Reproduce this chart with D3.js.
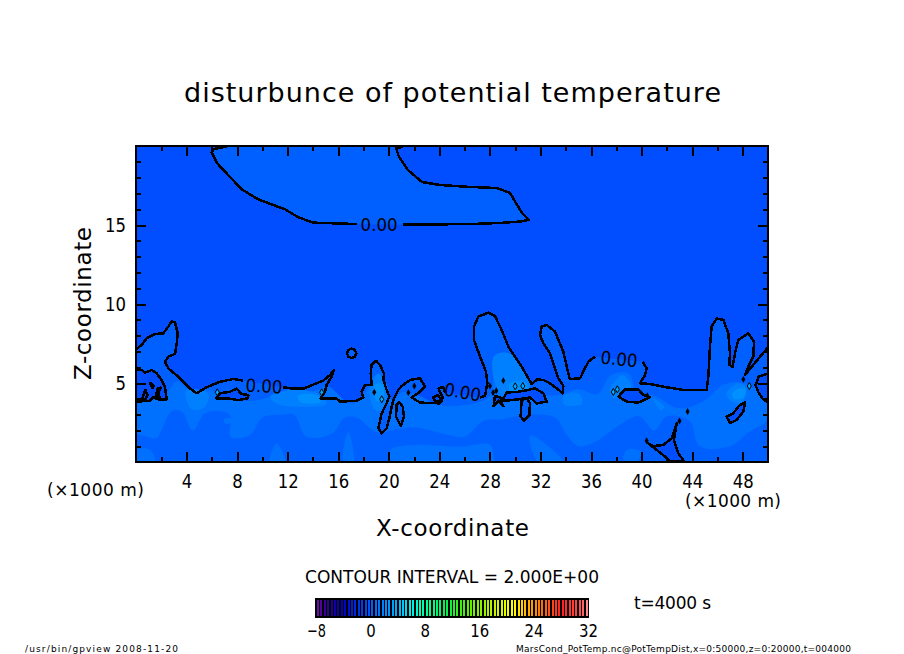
<!DOCTYPE html>
<meta charset="utf-8" />
<style>
  html, body { margin: 0; background: #fff; }
  text { font-family: "DejaVu Sans", sans-serif; fill: #000; }
</style>
<body>
<script src="https://cdn.jsdelivr.net/npm/d3@7"></script>
<script>
// all curves are [x (1000 m), z (1000 m)]
var xTicks = [4, 8, 12, 16, 20, 24, 28, 32, 36, 40, 44, 48],
  xMinorTicks = [2, 6, 10, 14, 18, 22, 26, 30, 34, 38, 42, 46],
  zTicks = [5, 10, 15],
  zMinorTicks = [1, 2, 3, 4, 6, 7, 8, 9, 11, 12, 13, 14, 16, 17, 18, 19],
  barTicks = [-8, 0, 8, 16, 24, 32];

var barStops = [-8, -7, -6, -4, 0, 4, 6, 8, 11, 14, 18, 21, 24, 28, 31, 32],
  barColors = ["#7a10b0", "#400098", "#200090", "#0000c0", "#0058ff", "#00b0ff", "#00f0e8", "#00ffa0",
    "#00f050", "#50f000", "#c0f000", "#ffff00", "#ff9000", "#ff2020", "#ff5050", "#ffa0a0"];

var bandColors = ["#004eff", "#0060ff", "#0070ff", "#0080ff", "#0090ff"];

var topContour = [[7.17, 19.96], [6.12, 19.81], [5.99, 19.58], [6.43, 18.9], [7.17, 18.27], [8.36, 17.26], [9.68, 16.62],
  [11.79, 15.99], [12.84, 15.49], [14.03, 15.15], [17.46, 15.06]];
var topContour2 = [[21.15, 15.02], [26.42, 15.06], [28.8, 15.13], [30.38, 15.22], [31.09, 15.32], [30.54, 15.76],
  [30.06, 16.39], [29.59, 17.03], [28.56, 17.34], [26.42, 17.41], [24.05, 17.53], [22.63, 17.72], [21.52, 18.48],
  [20.81, 19.3], [20.57, 19.87], [21.12, 19.94]];

var mainContour1 = [[0, 7.13], [0.45, 7.41], [0.84, 7.83], [1.5, 8.1], [2.16, 8.14], [2.56, 8.57], [2.82, 8.92], [3.09, 8.82],
  [3.3, 8.14], [3.22, 7.51], [3.09, 6.84], [2.56, 6.67], [2.29, 6.35], [2.56, 5.93], [3.48, 5.3], [4.27, 4.66], [4.8, 4.35],
  [5.59, 4.73], [6.65, 5.08], [7.7, 5.25], [8.49, 5.15]];
var mainContour2 = [[11.66, 4.73], [12.45, 4.64], [13.24, 4.64], [14.16, 4.94], [14.82, 5.15], [15.35, 5.51], [15.66, 5.82],
  [15.48, 5.4], [15.08, 4.87], [14.95, 4.45], [14.61, 4.03], [15.88, 4.01], [16.14, 3.82], [17.46, 3.88], [17.99, 4.09],
  [17.85, 4.45], [18.12, 4.87], [18.64, 4.87], [18.57, 5.61], [18.64, 6.14], [18.99, 6.41], [19.3, 6.14], [19.62, 5.61],
  [19.57, 5.19], [19.83, 4.56], [20.04, 4.14], [19.83, 3.71], [19.44, 3.08], [19.17, 2.13], [19.44, 1.81], [19.83, 2.13],
  [20.04, 2.76], [20.23, 3.5], [20.36, 3.92], [20.75, 4.56], [21.02, 4.81], [21.68, 5.19], [22.47, 5.3], [22.86, 4.77],
  [22.47, 4.45], [21.81, 4.09], [22.47, 3.76], [24.05, 3.71], [24.26, 4.09], [23.92, 4.66], [24.3, 4.75], [24.45, 4.4]];
var mainContour3 = [[27.22, 4.09], [27.61, 4.18], [27.8, 4.98], [27.69, 5.72], [27.22, 6.67], [26.74, 7.72], [26.74, 8.57],
  [27.08, 9.2], [27.88, 9.45], [28.4, 9.24], [28.93, 8.35], [29.46, 7.3], [30.51, 6.03], [31.3, 4.94], [31.75, 5.23],
  [32.23, 5.19], [32.75, 4.98], [33.28, 4.66], [33.76, 4.35], [33.81, 4.81], [33.41, 5.3], [32.75, 6.88], [32.23, 7.51],
  [31.96, 8.04], [32.09, 8.57], [32.49, 8.67], [33.15, 8.25], [33.81, 6.98], [34.2, 5.61], [34.33, 5.25], [35.13, 5.3],
  [35.52, 5.93], [35.79, 6.35], [36.31, 6.67]];
var mainContour4 = [[40.08, 6.35], [40.4, 5.93], [40.27, 5.51], [39.87, 4.98], [40.66, 4.94], [41.98, 4.73], [43.3, 4.56],
  [45.15, 4.56], [45.28, 5.4], [45.41, 7.3], [45.54, 8.57], [45.94, 9.09], [46.47, 8.99], [46.86, 8.14], [46.99, 6.88],
  [46.94, 6.14], [47.2, 6.03], [47.39, 6.88], [47.65, 7.72], [48.44, 8.14], [48.89, 7.62], [48.84, 6.67], [48.44, 6.03],
  [48.18, 5.51], [48.71, 6.03], [50, 7.26]];

// closed zero contours with a negative inside
var leftPocket = [[0, 5.86], [0.45, 5.82], [0.71, 5.65], [1.24, 5.82], [1.64, 5.61], [2.03, 5.19], [2.29, 4.77], [2.43, 3.97],
  [1.77, 3.97], [1.37, 4.09], [1.11, 3.88], [0, 3.82]];
var labelPocket = [[6.33, 4.03], [6.65, 4.35], [7.44, 4.45], [7.96, 4.64], [8.36, 4.3], [8.89, 4.24], [8.81, 4.03], [8.1, 3.92],
  [7.17, 4.03]];
var centerPocket = [[28.29, 3.54], [28.4, 4.18], [29.06, 4.03], [29.33, 4.39], [30.26, 4.45], [31.05, 4.56], [31.57, 4.66],
  [32.23, 4.35], [32.49, 3.82], [31.7, 3.71], [31.17, 4.09], [30.26, 3.97], [29.33, 3.88], [28.8, 3.88], [29.06, 3.54], [28.67, 3.88]];
var eastPocket = [[38.16, 4.14], [38.69, 4.6], [39.74, 4.6], [40.14, 4.24], [40.66, 4.09], [39.74, 3.76], [38.82, 3.82]];
var bottomPocket = [[40.53, 1.18], [40.93, 1.01], [41.72, 1.08], [42.38, 1.5], [42.78, 2.45], [42.56, 1.39], [42.91, 0.55],
  [43.38, 0.02], [42.25, 0.08], [41.19, 0.76]];
var rightBlob = [[46.73, 2.87], [47.25, 3.08], [47.78, 3.61], [48.18, 3.76], [48.05, 3.19], [47.52, 2.66], [47, 2.45]];
var rightPocket = [[50, 5.61], [49.27, 5.4], [49.02, 4.87], [49.27, 4.35], [49.67, 3.92], [50, 3.8]];
var smallLoop = [[23.66, 3.82], [23.52, 4.09], [23.92, 4.24], [24.18, 3.82]];
var circleLoop = [[17.06, 7.18], [17.32, 7.09], [17.43, 6.88], [17.32, 6.67], [17.06, 6.58], [16.8, 6.67], [16.69, 6.88], [16.8, 7.09]];
var leftSpeck1 = [[1.11, 5.02], [1.42, 4.81], [1.29, 4.68]];
var leftSpeck2 = [[1.69, 4.64], [1.95, 4.7], [1.74, 4.35], [1.9, 4.09], [1.58, 4.18]];
var leftSpeck3 = [[0.74, 4.56], [0.9, 4.24], [0.74, 3.97], [0.47, 3.92], [0.58, 4.18]];

// closed zero contours with positive inside
var lobeA = [[19.83, 3.71], [19.44, 3.08], [19.17, 2.13], [19.44, 1.81], [19.83, 2.13], [20.04, 2.76], [20.23, 3.5]];
var lobeB = [[20.62, 3.61], [20.57, 2.87], [20.94, 2.28], [21.2, 2.87], [21.1, 3.5], [20.83, 3.8]];
var lobeC = [[30.51, 3.92], [30.43, 2.87], [30.7, 2.62], [31.12, 2.97], [31.17, 3.71], [30.91, 4.03]];

// 0.5 to 1 band
var midBand = [[0, 3.7], [2.4, 4.4], [3.2, 5.1], [4.4, 4.5], [5.6, 4.6], [8, 3.9], [9.5, 3.9], [11, 4.2], [13, 4.3], [14.5, 4.6],
  [15.2, 4.8], [17, 3.7], [18.2, 4.5], [19, 5.5], [19.8, 5], [20.3, 3.9], [21, 4.4], [22.4, 4.2], [24, 3.6], [26, 3.6], [28, 4.2],
  [28.5, 6.5], [29.8, 6], [31, 4.7], [33, 4.2], [35, 4.6], [36.5, 4.3], [37.6, 5.5], [39, 5.6], [39.6, 4.4], [41, 4.2], [43, 3.4],
  [45, 3.9], [46.5, 4.9], [48, 5], [50, 4], [50, 2.7], [48.5, 1.9], [47, 1], [44.6, 1], [43.8, 2.6], [42, 2.9], [41, 2], [39.8, 2.9],
  [38, 2.2], [36.6, 1.4], [35, 1], [34, 1.8], [33.2, 2.8], [31, 3], [29, 2.7], [27.5, 2.6], [26, 1.6], [24.8, 1.7], [22, 2.2],
  [20.8, 2.1], [19, 1.9], [17.5, 2.8], [16.5, 2.8], [15.5, 1.8], [13.5, 1.6], [12.5, 3], [11.6, 3], [10, 2.8], [9, 1.7], [7.5, 1.6],
  [7.4, 3], [5.5, 3.1], [4.5, 2], [3.6, 3.2], [2.8, 3.2], [1.6, 1.5], [0.9, 1.6], [0, 1.9]];
var midPatches = [
  [[0, 0.76], [1.11, 0.76], [1.5, 0], [0, 0]],
  [[16.8, 1.92], [17.2, 0], [16.4, 0]],
  [[11.13, 1.18], [11.8, 0], [10.6, 0]],
  [[20.1, 0.76], [21.9, 1.08], [25.6, 0.97], [28, 1.1], [28.3, 0.3], [28.3, 0], [20.3, 0]],
  [[31.2, 1.7], [33.8, 0], [31.8, 0]],
  [[38.8, 0.76], [40, 0.65], [39.6, 0], [38.6, 0]],
  [[7, 2.76], [7.5, 2.76], [7.5, 2.45], [7, 2.45]]
];
// 1 to 1.5 band
var highPatches = [
  [[4, 4.56], [5.7, 4.35], [5.46, 3.5], [4.5, 3.3], [4, 3.9]],
  [[10.6, 4.13], [12.2, 4.56], [14.3, 4.35], [15.1, 3.71], [13, 3.5], [11.1, 3.71]],
  [[18.5, 4.56], [19.2, 5.61], [19.8, 4.35], [19.7, 3.3], [18.9, 3.3]],
  [[28.3, 6.67], [29.5, 6.88], [31.2, 4.98], [30.6, 4.14], [28.8, 4.35]],
  [[33.8, 4.14], [35, 4.35], [35.3, 3.71], [33.9, 3.61]],
  [[37.5, 4.56], [38.5, 5.51], [39.2, 4.66], [37.8, 4.03]],
  [[40.9, 4.03], [41.8, 3.5], [41.5, 3.29]],
  [[46.7, 4.35], [47.8, 4.98], [48.3, 4.56], [47.8, 3.71], [47, 3.92]]
];
// 1.5 to 2 band
var peakPatches = [
  [[12.8, 4.2], [14.4, 4.2], [14.6, 3.8], [13, 3.8]],
  [[29.6, 5], [30.9, 5], [30.9, 4.4], [29.6, 4.4]],
  [[18.9, 4.9], [19.5, 4.9], [19.5, 3.9], [19, 3.9]],
  [[47.2, 4.4], [48.2, 4.7], [48.1, 4.1], [47.3, 4]]
];

var blackSpecks = [[18.85, 4.41], [21.55, 4.39], [22.02, 4.81], [29.06, 5.15], [28, 4.81], [28.5, 4.51], [28.25, 4.39],
  [43.64, 3.19], [48.05, 5.23], [43, 2.59], [40.4, 1.35], [40.45, 4.2], [30.55, 3.92]];
var cyanSpecks = [[30, 4.79], [30.6, 4.81], [38.08, 4.6], [37.76, 4.43], [48.52, 4.81], [6.43, 4.41], [14.69, 4.41], [19.44, 3.97]];
var contourLabels = [[19.23, 15.06], [10.13, 4.81], [25.83, 4.43], [38.21, 6.52]];

var width = 904,
  height = 654,
  left = 136,
  right = 768,
  top_ = 146,
  bottom = 462;

var x = d3.scaleLinear().domain([0, 50]).range([left, right]),
  z = d3.scaleLinear().domain([0, 20]).range([bottom, top_]);

var barColor = d3.scaleLinear().domain(barStops).range(barColors);

var svg = d3.select("body").append("svg").attr("width", width).attr("height", height).style("display", "block");

var line = d3.line().x(function (d) { return x(d[0]); }).y(function (d) { return z(d[1]); });
var blob = d3.line().x(function (d) { return x(d[0]); }).y(function (d) { return z(d[1]); }).curve(d3.curveCatmullRomClosed);

svg.append("clipPath").attr("id", "plot").append("rect")
  .attr("x", left).attr("y", top_).attr("width", right - left).attr("height", bottom - top_);

var plot = svg.append("g").attr("clip-path", "url(#plot)");

plot.append("rect").attr("x", left).attr("y", top_).attr("width", right - left).attr("height", bottom - top_)
  .attr("fill", bandColors[0]);

function fillArea(points, color, gen) {
  plot.append("path").attr("d", (gen || line)(points) + (gen ? "" : "Z")).attr("fill", color);
}

// zero contour regions
fillArea(topContour.concat(topContour2), bandColors[1]);
fillArea(mainContour1.concat(mainContour2, mainContour3, mainContour4, [[50, 0], [0, 0]]), bandColors[1]);

fillArea(midBand, bandColors[2], blob);
midPatches.forEach(function (p) { fillArea(p, bandColors[2], blob); });
highPatches.forEach(function (p) { fillArea(p, bandColors[3], blob); });
peakPatches.forEach(function (p) { fillArea(p, bandColors[4], blob); });

[lobeA, lobeB, lobeC].forEach(function (p) { fillArea(p, bandColors[1]); });
[leftPocket, labelPocket, centerPocket, eastPocket, bottomPocket, rightBlob, rightPocket, smallLoop]
  .forEach(function (p) { fillArea(p, bandColors[0]); });
fillArea(circleLoop, bandColors[1]);

function strokeLine(points, closed) {
  plot.append("path").attr("d", line(points) + (closed ? "Z" : ""))
    .attr("fill", "none").attr("stroke", "#000").attr("stroke-width", 2.5)
    .attr("stroke-linejoin", "round").attr("shape-rendering", "crispEdges");
}

[topContour, topContour2, mainContour1, mainContour2, mainContour3, mainContour4].forEach(function (p) { strokeLine(p, false); });
[leftPocket, labelPocket, centerPocket, eastPocket, bottomPocket, rightBlob, rightPocket, smallLoop, circleLoop,
  leftSpeck1, leftSpeck2, leftSpeck3, lobeB, lobeC].forEach(function (p) { strokeLine(p, true); });

var dot = d3.symbol().type(d3.symbolDiamond).size(14);
plot.selectAll(".black").data(blackSpecks).join("path")
  .attr("d", dot).attr("transform", function (d) { return "translate(" + x(d[0]) + "," + z(d[1]) + ")"; }).attr("fill", "#000");
plot.selectAll(".cyan").data(cyanSpecks).join("path")
  .attr("d", dot).attr("transform", function (d) { return "translate(" + x(d[0]) + "," + z(d[1]) + ")"; })
  .attr("fill", "#00b0ff").attr("stroke", "#000").attr("stroke-width", 1);

var labelTilt = [0, 3, 10, 6];
plot.selectAll(".lab").data(contourLabels).join("text")
  .attr("transform", function (d, i) { return "translate(" + x(d[0]) + "," + z(d[1]) + ") rotate(" + labelTilt[i] + ")"; })
  .attr("y", 6.5).attr("text-anchor", "middle").attr("font-size", 18)
  .attr("textLength", 37).attr("lengthAdjust", "spacingAndGlyphs")
  .text("0.00");

// tick labels are narrower than the font, so squeeze them
function squeeze(sel, size, digit) {
  sel.attr("font-size", size).style("font-family", '"DejaVu Sans", sans-serif')
    .attr("lengthAdjust", "spacingAndGlyphs")
    .attr("textLength", function () { return this.textContent.length * digit; });
}

// frame and ticks, all pointing inward
function axes(g, axis) {
  g.call(axis);
  g.select(".domain").remove();
  g.selectAll("line").attr("stroke", "#000").attr("stroke-width", 2).attr("shape-rendering", "crispEdges");
  squeeze(g.selectAll("text"), 19, 10.5);
}

function xAxes(values, size, labelled) {
  var a = d3.axisBottom(x).tickValues(values).tickSize(-size).tickPadding(size + 3).tickFormat(labelled ? d3.format("d") : "");
  svg.append("g").attr("transform", "translate(0," + bottom + ")").call(axes, a);
  svg.append("g").attr("transform", "translate(0," + top_ + ")").call(axes, d3.axisTop(x).tickValues(values).tickSize(-size).tickFormat(""));
}
function zAxes(values, size, labelled) {
  var a = d3.axisLeft(z).tickValues(values).tickSize(-size).tickFormat(labelled ? d3.format("d") : "");
  var g = svg.append("g").attr("transform", "translate(" + left + ",0)").call(axes, a);
  g.selectAll("text").attr("x", -10);
  svg.append("g").attr("transform", "translate(" + right + ",0)").call(axes, d3.axisRight(z).tickValues(values).tickSize(-size).tickFormat(""));
}
xAxes(xMinorTicks, 5, false);
xAxes(xTicks, 10, true);
zAxes(zMinorTicks, 5, false);
zAxes(zTicks, 10, true);

svg.append("rect").attr("x", left).attr("y", top_).attr("width", right - left).attr("height", bottom - top_)
  .attr("fill", "none").attr("stroke", "#000").attr("stroke-width", 2);

function label(str, px, py, size, w, adjust) {
  return svg.append("text").attr("x", px).attr("y", py).attr("font-size", size)
    .attr("textLength", w).attr("lengthAdjust", adjust || "spacing").text(str);
}

label("disturbunce of potential temperature", 184, 102, 27, 537);
label("(\u00d71000 m)", 47, 496, 17, 97);
label("(\u00d71000 m)", 685, 507, 17, 96);
label("X-coordinate", 376, 536, 23, 153);
label("Z-coordinate", 0, 0, 23, 153).attr("transform", "translate(91,380) rotate(-90)");
label("CONTOUR INTERVAL = 2.000E+00", 305, 583, 18, 294, "spacingAndGlyphs");
label("t=4000 s", 634, 609, 17, 77);
label("/usr/bin/gpview   2008-11-20", 25, 652, 9, 153);
label("MarsCond_PotTemp.nc@PotTempDist,x=0:50000,z=0:20000,t=004000", 516, 652, 9, 335);

// colour bar
var barX = d3.scaleLinear().domain([-8, 32]).range([316, 588]);
var barLevels = d3.range(-8, 32, 0.5);
svg.append("rect").attr("x", 315).attr("y", 598).attr("width", 274).attr("height", 20).attr("fill", "#000");
svg.selectAll(".level").data(barLevels).join("rect")
  .attr("x", function (d) { return barX(d) + 1; }).attr("y", 600)
  .attr("width", 2).attr("height", 16)
  .attr("fill", function (d) { return barColor(d + 0.25); })
  .attr("shape-rendering", "crispEdges");

var barAxis = svg.append("g").attr("transform", "translate(0,617)")
  .call(d3.axisBottom(barX).tickValues(barTicks).tickSize(0).tickPadding(7).tickFormat(function (d) { return String(d).replace("-", "\u2212"); }));
barAxis.select(".domain").remove();
squeeze(barAxis.selectAll("text"), 18, 9.5);
</script>
</body>
